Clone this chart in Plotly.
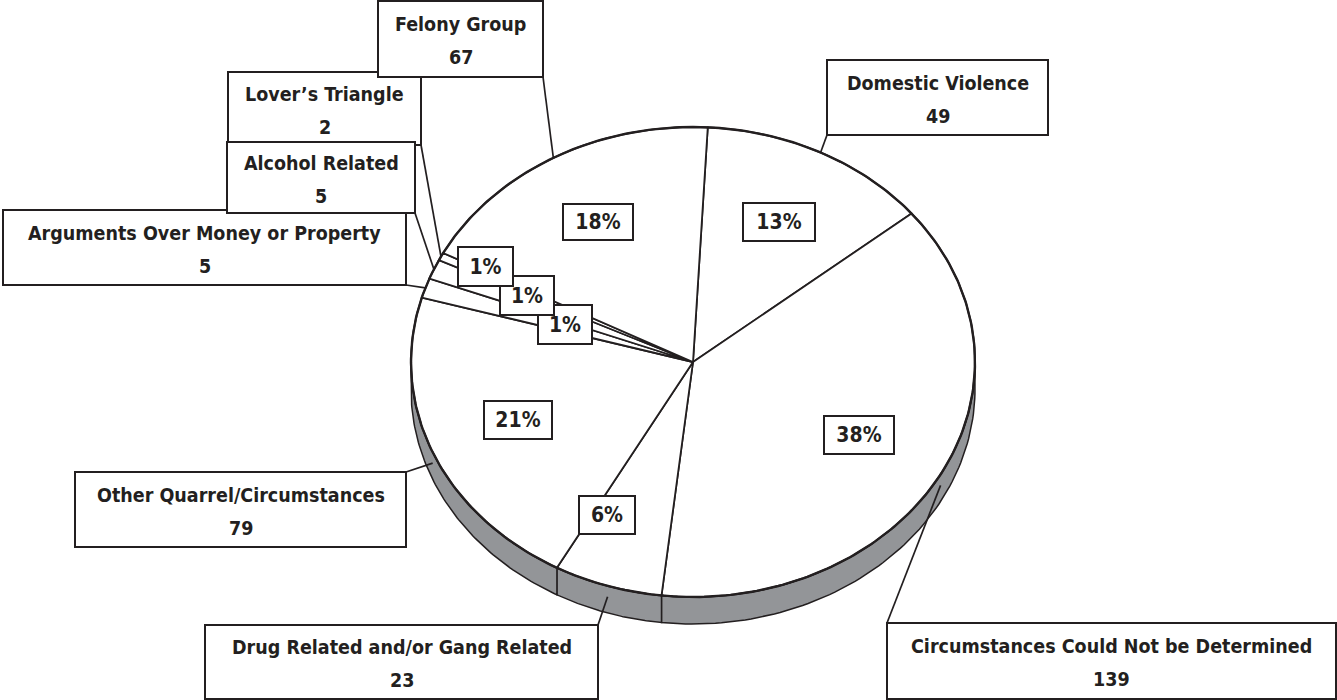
import numpy as np
import plotly.graph_objects as go

# ---- data (clockwise from top) ----
categories = ["Domestic Violence", "Circumstances Could Not be Determined",
              "Drug Related and/or Gang Related", "Other Quarrel/Circumstances",
              "Arguments Over Money or Property", "Alcohol Related",
              "Lover\u2019s Triangle", "Felony Group"]
values = [49, 139, 23, 79, 5, 5, 2, 67]

# ---- layout / styling ----
W, H = 1337, 700
CX, CY, RA, RB, DEPTH = 693, 362, 282, 235, 27
START_DEG = 3.0
INK = "#231f20"
SIDE = "#939598"
FONT = "DejaVu Sans Condensed, Roboto, sans-serif"
FS = 19.5
LINE_GAP = 16.5
TEXT_SHIFT = 2

# label boxes (x0, y0, x1, y1) and the corner the leader starts from
label_boxes = {
    "Domestic Violence": ((827, 60, 1048, 135), (827, 135)),
    "Circumstances Could Not be Determined": ((887, 623, 1336, 699), (887, 623)),
    "Drug Related and/or Gang Related": ((205, 625, 598, 699), (598, 625)),
    "Other Quarrel/Circumstances": ((75, 472, 406, 547), (406, 472)),
    "Arguments Over Money or Property": ((3, 210, 406, 285), (406, 285)),
    "Alcohol Related": ((227, 142, 415, 213), (415, 213)),
    "Lover\u2019s Triangle": ((228, 72, 421, 145), (421, 145)),
    "Felony Group": ((378, 1, 543, 77), (543, 77)),
}
draw_order = ["Arguments Over Money or Property", "Lover\u2019s Triangle", "Alcohol Related",
              "Felony Group", "Domestic Violence", "Other Quarrel/Circumstances",
              "Drug Related and/or Gang Related", "Circumstances Could Not be Determined"]
# percent boxes (cx, cy, w, h)
pct_boxes = [(779, 222, 74, 40), (859, 435, 72, 40), (607, 515, 58, 40), (518, 420, 70, 40),
             (565, 324, 56, 41), (527, 295, 56, 41), (485, 266, 57, 41), (598, 222, 72, 38)]

total = sum(values)


def pt(theta_deg, dy=0.0):
    t = np.radians(theta_deg)
    return CX + RA * np.sin(t), CY - RB * np.cos(t) + dy


fig = go.Figure()

bounds = [START_DEG]
for v in values:
    bounds.append(bounds[-1] + v / total * 360.0)

# side faces (visible for 90..270 deg)
for i, v in enumerate(values):
    s, e = bounds[i], bounds[i + 1]
    s0, e0 = s % 360, (s % 360) + (e - s)
    lo, hi = max(s0, 90), min(e0, 270)
    if hi > lo:
        th = np.linspace(lo, hi, 80)
        xt, yt = pt(th)
        xb, yb = pt(th[::-1], DEPTH)
        fig.add_trace(go.Scatter(x=np.concatenate([xt, xb, xt[:1]]),
                                 y=np.concatenate([yt, yb, yt[:1]]),
                                 mode="lines", fill="toself", fillcolor=SIDE,
                                 line=dict(color=INK, width=1.5), hoverinfo="skip"))

# top faces
for i, v in enumerate(values):
    s, e = bounds[i], bounds[i + 1]
    th = np.linspace(s, e, max(4, int((e - s) * 2)))
    xs, ys = pt(th)
    fig.add_trace(go.Scatter(x=np.concatenate([[CX], xs, [CX]]),
                             y=np.concatenate([[CY], ys, [CY]]),
                             mode="lines", fill="toself", fillcolor="white",
                             line=dict(color=INK, width=1.8), hoverinfo="skip"))

# outer rim of top face
th = np.linspace(0, 360, 400)
xs, ys = pt(th)
fig.add_trace(go.Scatter(x=xs, y=ys, mode="lines", line=dict(color=INK, width=2.4),
                         hoverinfo="skip"))

# leader lines
for i, name in enumerate(categories):
    mid = (bounds[i] + bounds[i + 1]) / 2 % 360
    dy = DEPTH * 0.4 if 90 < mid < 270 else 0
    ex, ey = pt(mid, dy)
    (x0, y0, x1, y1), (sx, sy) = label_boxes[name]
    fig.add_trace(go.Scatter(x=[sx, ex], y=[sy, ey], mode="lines",
                             line=dict(color=INK, width=1.7), hoverinfo="skip"))

annotations = []
shapes = []
for i, v in enumerate(values):
    cx, cy, w, h = pct_boxes[i]
    annotations.append(dict(x=cx, y=cy, xref="x", yref="y", showarrow=False,
                            text=f"<b>{round(v / total * 100)}%</b>",
                            font=dict(family=FONT, size=21, color=INK),
                            width=w - 4, height=h - 4, borderpad=0, borderwidth=2,
                            bordercolor=INK, bgcolor="white",
                            xanchor="center", yanchor="middle"))
for name in draw_order:
    v = values[categories.index(name)]
    (x0, y0, x1, y1), _ = label_boxes[name]
    shapes.append(dict(type="rect", xref="x", yref="y", x0=x0, x1=x1, y0=y0, y1=y1,
                       fillcolor="white", line=dict(color=INK, width=2), layer="above"))
    cy = (y0 + y1) / 2 + TEXT_SHIFT
    for txt, yy in ((name, cy - LINE_GAP), (str(v), cy + LINE_GAP)):
        annotations.append(dict(x=(x0 + x1) / 2, y=yy, xref="x", yref="y",
                                showarrow=False, text=f"<b>{txt}</b>",
                                font=dict(family=FONT, size=FS, color=INK),
                                xanchor="center", yanchor="middle", align="center"))

fig.update_layout(width=W, height=H, margin=dict(l=0, r=0, t=0, b=0),
                  paper_bgcolor="white", plot_bgcolor="white", showlegend=False,
                  xaxis=dict(range=[0, W], visible=False, fixedrange=True),
                  yaxis=dict(range=[H, 0], visible=False, fixedrange=True),
                  annotations=annotations, shapes=shapes)

fig.write_html("out.html", config={"displayModeBar": False},
               post_script="document.body.style.margin='0';")
